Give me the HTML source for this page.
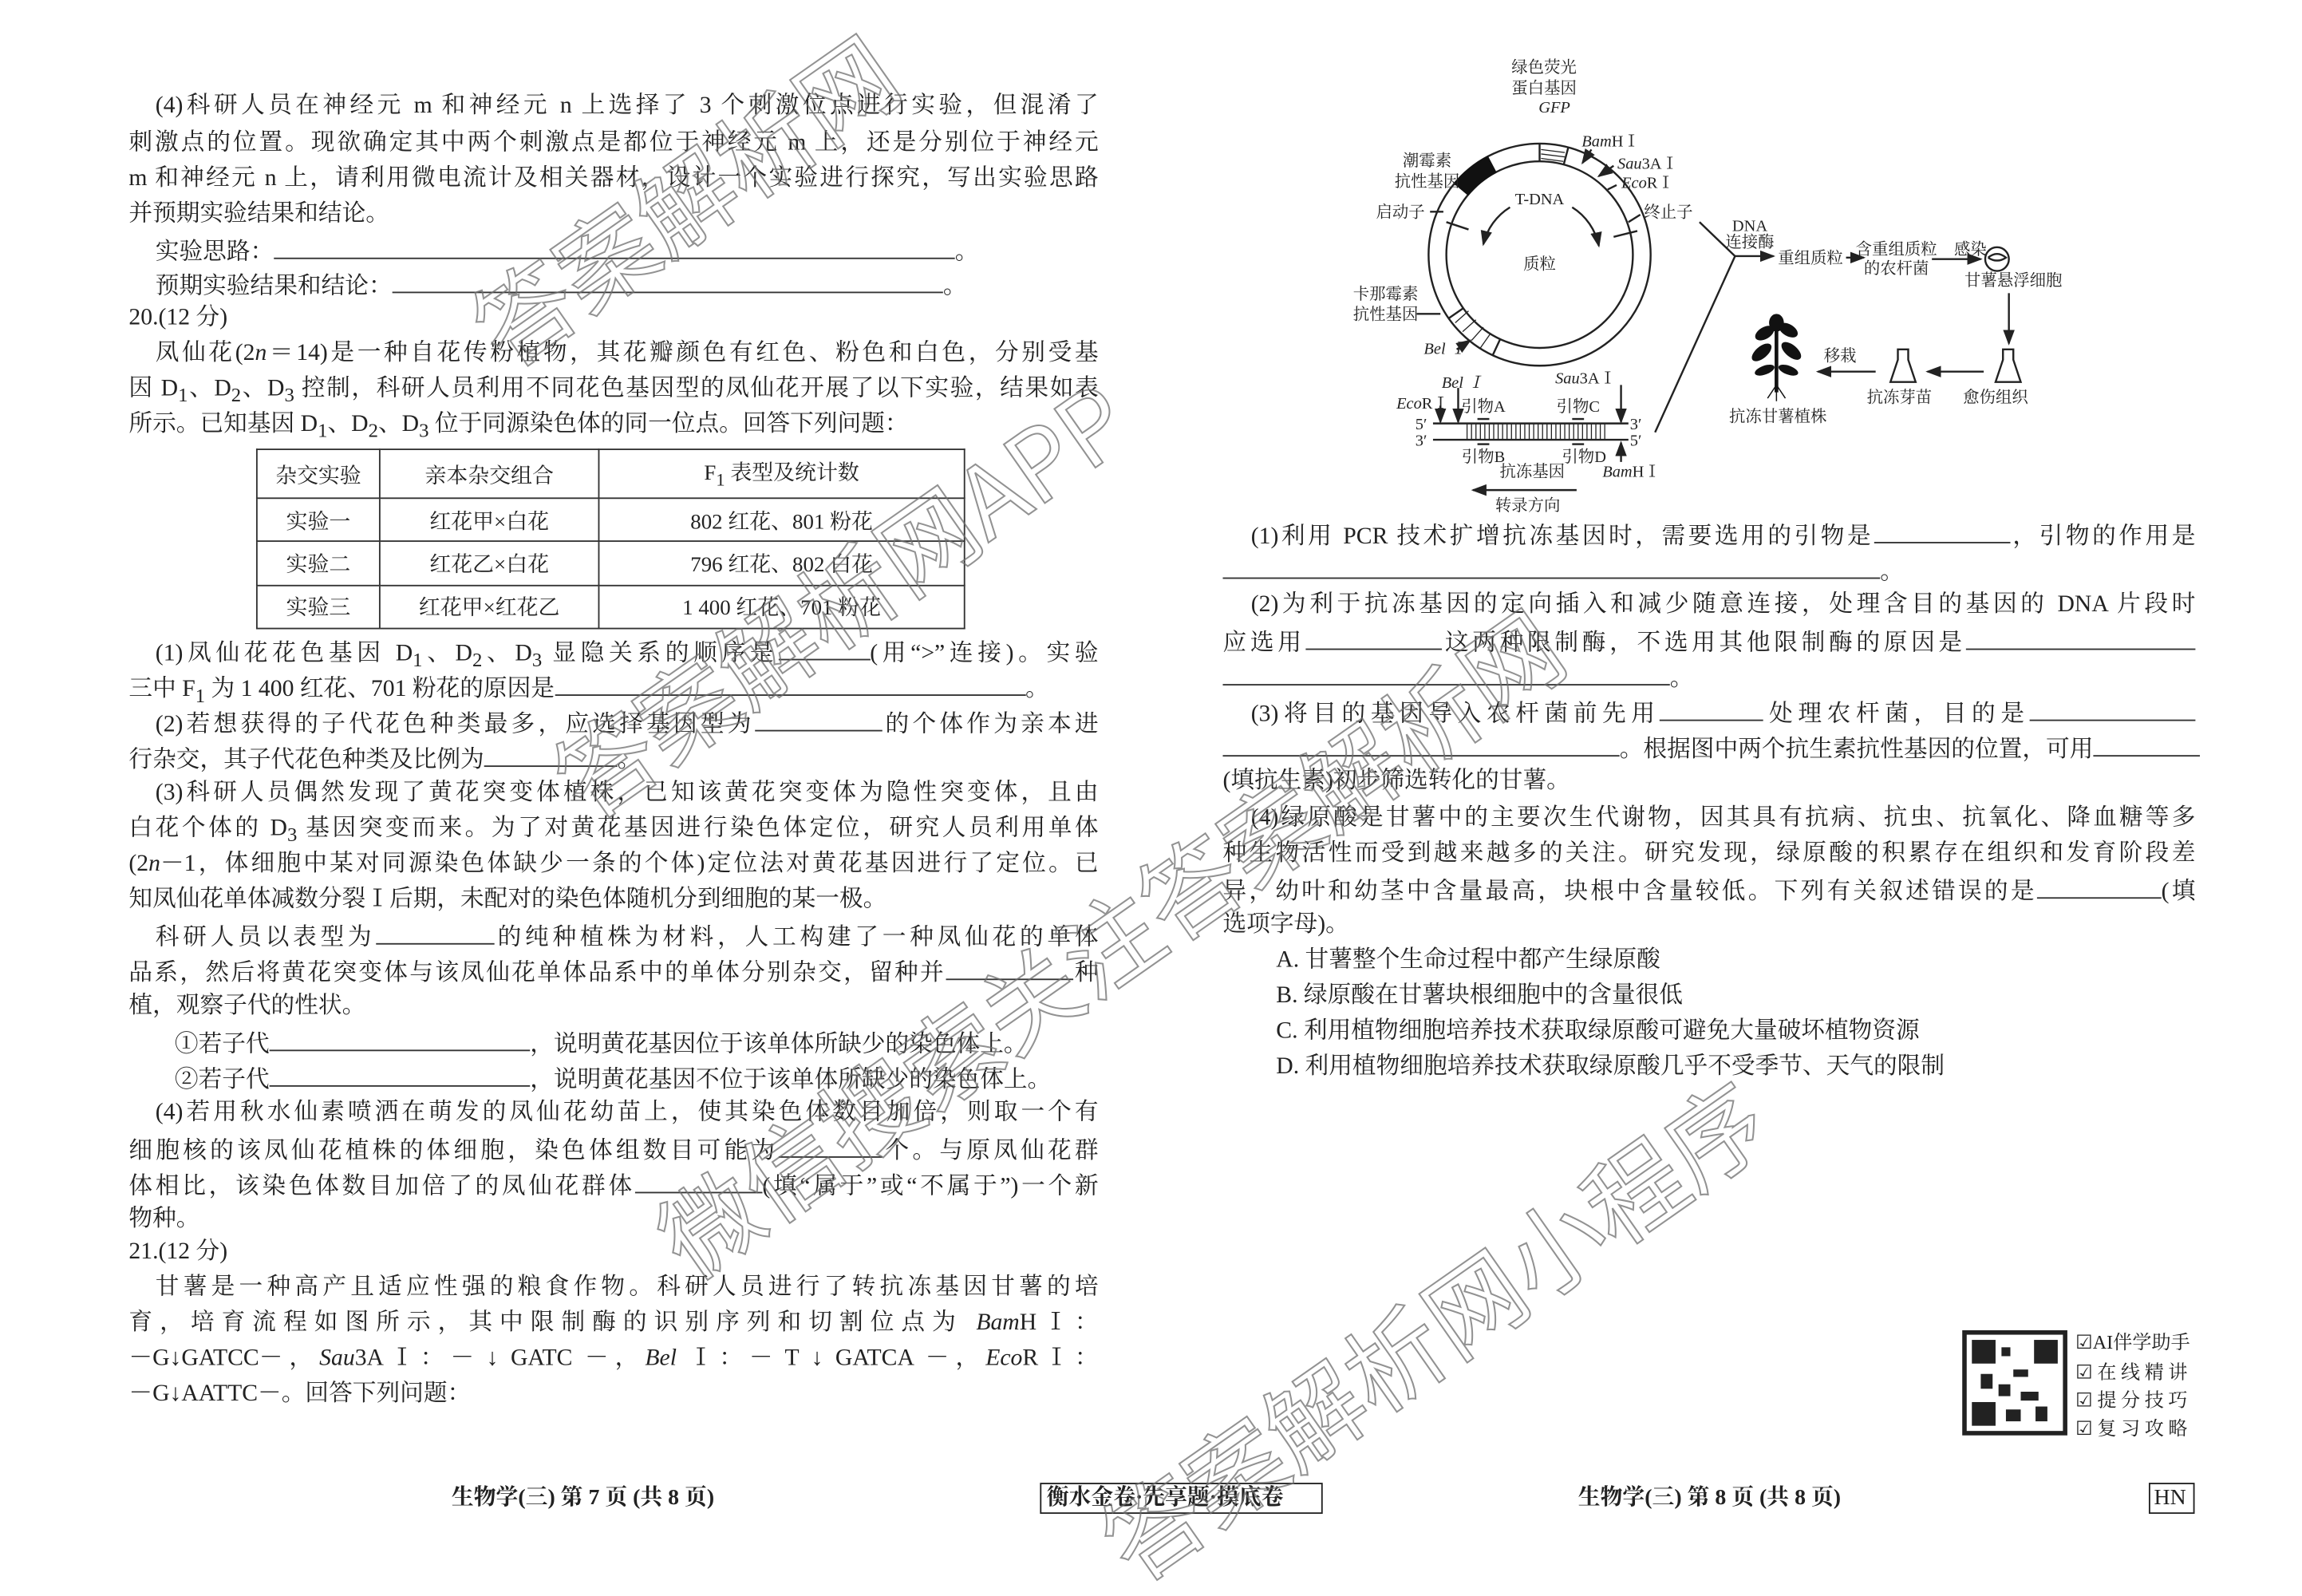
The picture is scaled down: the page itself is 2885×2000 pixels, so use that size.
<!DOCTYPE html>
<html><head><meta charset="utf-8"><style>
html,body{margin:0;padding:0;background:#fff;}
#wrap{width:1555px;height:1078px;position:relative;transform:scale(1.85531);transform-origin:0 0;overflow:hidden;background:#fff;
font-family:"Liberation Serif","Noto Serif CJK SC","Noto Sans CJK SC",serif;color:#222;font-size:16px;}
.l{position:absolute;height:22px;line-height:22px;white-space:nowrap;}
.j{text-align:justify;text-align-last:justify;}
.u{display:inline-block;border-bottom:1px solid #333;height:16px;vertical-align:baseline;}
table{position:absolute;left:173px;top:303px;width:479px;height:122px;border-collapse:collapse;font-size:14.5px;}
td{border:1px solid #333;text-align:center;padding:0;}
.wm{position:absolute;font-size:66px;line-height:66px;height:66px;color:rgba(255,255,255,0);-webkit-text-stroke:1.1px rgba(110,110,110,0.75);font-family:"Noto Sans CJK SC",sans-serif;transform-origin:0 100%;transform:rotate(-35deg);white-space:nowrap;}
.s{font-family:"Liberation Serif","Noto Serif CJK SC",serif;font-size:11px;fill:#222;}
</style></head><body><div id="wrap">

<div class="l j" style="left:105px;width:637px;top:61px">(4)科研人员在神经元 m 和神经元 n 上选择了 3 个刺激位点进行实验，但混淆了</div>
<div class="l j" style="left:87px;width:655px;top:86px">刺激点的位置。现欲确定其中两个刺激点是都位于神经元 m 上，还是分别位于神经元</div>
<div class="l j" style="left:87px;width:655px;top:110px">m 和神经元 n 上，请利用微电流计及相关器材，设计一个实验进行探究，写出实验思路</div>
<div class="l" style="left:87px;top:134px">并预期实验结果和结论。</div>
<div class="l" style="left:105px;top:158px">实验思路：<span class="u" style="width:460px"></span>。</div>
<div class="l" style="left:105px;top:181px">预期实验结果和结论：<span class="u" style="width:372px"></span>。</div>
<div class="l" style="left:87px;top:204px">20.(12 分)</div>
<div class="l j" style="left:105px;width:637px;top:228px">凤仙花(2<i>n</i>＝14)是一种自花传粉植物，其花瓣颜色有红色、粉色和白色，分别受基</div>
<div class="l j" style="left:87px;width:655px;top:252px">因 D<sub>1</sub>、D<sub>2</sub>、D<sub>3</sub> 控制，科研人员利用不同花色基因型的凤仙花开展了以下实验，结果如表</div>
<div class="l" style="left:87px;top:276px">所示。已知基因 D<sub>1</sub>、D<sub>2</sub>、D<sub>3</sub> 位于同源染色体的同一位点。回答下列问题：</div>
<table>
<tr><td style="width:82px">杂交实验</td><td style="width:147px">亲本杂交组合</td><td>F<sub>1</sub> 表型及统计数</td></tr>
<tr><td>实验一</td><td>红花甲×白花</td><td>802 红花、801 粉花</td></tr>
<tr><td>实验二</td><td>红花乙×白花</td><td>796 红花、802 白花</td></tr>
<tr><td>实验三</td><td>红花甲×红花乙</td><td>1 400 红花、701 粉花</td></tr>
</table>
<div class="l j" style="left:105px;width:637px;top:429px">(1)凤仙花花色基因 D<sub>1</sub>、D<sub>2</sub>、D<sub>3</sub> 显隐关系的顺序是<span class="u" style="width:62px"></span>(用“&gt;”连接)。实验</div>
<div class="l" style="left:87px;top:453px">三中 F<sub>1</sub> 为 1 400 红花、701 粉花的原因是<span class="u" style="width:318px"></span>。</div>
<div class="l j" style="left:105px;width:637px;top:477px">(2)若想获得的子代花色种类最多，应选择基因型为<span class="u" style="width:86px"></span>的个体作为亲本进</div>
<div class="l" style="left:87px;top:501px">行杂交，其子代花色种类及比例为<span class="u" style="width:90px"></span>。</div>
<div class="l j" style="left:105px;width:637px;top:525px">(3)科研人员偶然发现了黄花突变体植株，已知该黄花突变体为隐性突变体，且由</div>
<div class="l j" style="left:87px;width:655px;top:549px">白花个体的 D<sub>3</sub> 基因突变而来。为了对黄花基因进行染色体定位，研究人员利用单体</div>
<div class="l j" style="left:87px;width:655px;top:573px">(2<i>n</i>－1，体细胞中某对同源染色体缺少一条的个体)定位法对黄花基因进行了定位。已</div>
<div class="l" style="left:87px;top:597px">知凤仙花单体减数分裂Ⅰ后期，未配对的染色体随机分到细胞的某一极。</div>
<div class="l j" style="left:105px;width:637px;top:621px">科研人员以表型为<span class="u" style="width:80px"></span>的纯种植株为材料，人工构建了一种凤仙花的单体</div>
<div class="l j" style="left:87px;width:655px;top:645px">品系，然后将黄花突变体与该凤仙花单体品系中的单体分别杂交，留种并<span class="u" style="width:86px"></span>种</div>
<div class="l" style="left:87px;top:669px">植，观察子代的性状。</div>
<div class="l" style="left:118px;top:693px">①若子代<span class="u" style="width:176px"></span>，说明黄花基因位于该单体所缺少的染色体上。</div>
<div class="l" style="left:118px;top:717px">②若子代<span class="u" style="width:176px"></span>，说明黄花基因不位于该单体所缺少的染色体上。</div>
<div class="l j" style="left:105px;width:637px;top:741px">(4)若用秋水仙素喷洒在萌发的凤仙花幼苗上，使其染色体数目加倍，则取一个有</div>
<div class="l j" style="left:87px;width:655px;top:765px">细胞核的该凤仙花植株的体细胞，染色体组数目可能为<span class="u" style="width:70px"></span>个。与原凤仙花群</div>
<div class="l j" style="left:87px;width:655px;top:789px">体相比，该染色体数目加倍了的凤仙花群体<span class="u" style="width:86px"></span>(填“属于”或“不属于”)一个新</div>
<div class="l" style="left:87px;top:813px">物种。</div>
<div class="l" style="left:87px;top:835px">21.(12 分)</div>
<div class="l j" style="left:105px;width:637px;top:859px">甘薯是一种高产且适应性强的粮食作物。科研人员进行了转抗冻基因甘薯的培</div>
<div class="l j" style="left:87px;width:655px;top:883px">育，培育流程如图所示，其中限制酶的识别序列和切割位点为 <i>Bam</i>HⅠ：</div>
<div class="l j" style="left:87px;width:655px;top:907px">－G↓GATCC－，<i>Sau</i>3AⅠ：－ ↓ GATC －，<i>Bel</i> Ⅰ：－ T ↓ GATCA －，<i>Eco</i>RⅠ：</div>
<div class="l" style="left:87px;top:931px">－G↓AATTC－。回答下列问题：</div>

<div class="l j" style="left:845px;width:638px;top:350px">(1)利用 PCR 技术扩增抗冻基因时，需要选用的引物是<span class="u" style="width:92px"></span>，引物的作用是</div>
<div class="l" style="left:826px;top:374px"><span class="u" style="width:444px"></span>。</div>
<div class="l j" style="left:845px;width:638px;top:398px">(2)为利于抗冻基因的定向插入和减少随意连接，处理含目的基因的 DNA 片段时</div>
<div class="l j" style="left:826px;width:657px;top:422px">应选用<span class="u" style="width:92px"></span>这两种限制酶，不选用其他限制酶的原因是<span class="u" style="width:155px"></span></div>
<div class="l" style="left:826px;top:446px"><span class="u" style="width:302px"></span>。</div>
<div class="l j" style="left:845px;width:638px;top:470px">(3)将目的基因导入农杆菌前先用<span class="u" style="width:70px"></span>处理农杆菌，目的是<span class="u" style="width:112px"></span></div>
<div class="l j" style="left:826px;width:657px;top:494px"><span class="u" style="width:268px"></span>。根据图中两个抗生素抗性基因的位置，可用<span class="u" style="width:72px"></span></div>
<div class="l" style="left:826px;top:517px">(填抗生素)初步筛选转化的甘薯。</div>
<div class="l j" style="left:845px;width:638px;top:542px">(4)绿原酸是甘薯中的主要次生代谢物，因其具有抗病、抗虫、抗氧化、降血糖等多</div>
<div class="l j" style="left:826px;width:657px;top:566px">种生物活性而受到越来越多的关注。研究发现，绿原酸的积累存在组织和发育阶段差</div>
<div class="l j" style="left:826px;width:657px;top:590px">异，幼叶和幼茎中含量最高，块根中含量较低。下列有关叙述错误的是<span class="u" style="width:84px"></span>(填</div>
<div class="l" style="left:826px;top:614px">选项字母)。</div>
<div class="l" style="left:862px;top:638px">A. 甘薯整个生命过程中都产生绿原酸</div>
<div class="l" style="left:862px;top:662px">B. 绿原酸在甘薯块根细胞中的含量很低</div>
<div class="l" style="left:862px;top:686px">C. 利用植物细胞培养技术获取绿原酸可避免大量破坏植物资源</div>
<div class="l" style="left:862px;top:710px">D. 利用植物细胞培养技术获取绿原酸几乎不受季节、天气的限制</div>

<svg style="position:absolute;left:0;top:0" width="1555" height="1078">
<defs><marker id="a" markerWidth="8" markerHeight="6" refX="7" refY="3" orient="auto"><path d="M0,0 L8,3 L0,6 Z" fill="#222"/></marker></defs>
<g fill="none" stroke="#222" stroke-width="1.3">
<circle cx="1040" cy="172" r="75"/>
<circle cx="1040" cy="172" r="63"/>
<path d="M1040,97 L1040,109 M1059.4,99.5 L1056.3,111.1"/>
<path d="M978.6,215 L988.4,208.2 M1008.3,240 L1013.4,229"/>
<line x1="977" y1="150" x2="992" y2="155"/>
<line x1="1090" y1="160" x2="1106" y2="156"/>
<path d="M1020,140 A40,40 0 0 0 1002,165" marker-end="url(#a)"/>
<path d="M1062,140 A40,40 0 0 1 1080,166" marker-end="url(#a)"/>
<line x1="966" y1="143" x2="975" y2="143"/>
<line x1="1100" y1="150" x2="1108" y2="145"/>
<line x1="957" y1="212" x2="973" y2="212"/>
<line x1="1075" y1="101" x2="1069" y2="110" marker-end="url(#a)"/>
<line x1="1090" y1="112" x2="1080" y2="119" marker-end="url(#a)"/>
<line x1="1092" y1="125" x2="1086" y2="128"/>
<line x1="984" y1="236" x2="993" y2="230" marker-end="url(#a)"/>
<line x1="1148" y1="150" x2="1172" y2="173"/>
<line x1="1172" y1="173" x2="1118" y2="292"/>
<line x1="1172" y1="173" x2="1198" y2="173" marker-end="url(#a)"/>
<line x1="1247" y1="174" x2="1259" y2="174" marker-end="url(#a)"/>
<line x1="1305" y1="175" x2="1338" y2="175" marker-end="url(#a)"/>
<circle cx="1349" cy="175" r="8"/>
<path d="M1343,174 q6,-5 12,0 q-6,4 -12,0"/>
<line x1="1357" y1="198" x2="1357" y2="232" marker-end="url(#a)"/>
<path d="M1353,236 h7 v7 l5,15 h-17 l5,-15 Z"/>
<line x1="1340" y1="251" x2="1302" y2="251" marker-end="url(#a)"/>
<path d="M1282,236 h7 v7 l5,15 h-17 l5,-15 Z"/>
<line x1="1267" y1="251" x2="1228" y2="251" marker-end="url(#a)"/>
<line x1="968" y1="286" x2="1100" y2="286"/>
<line x1="968" y1="297" x2="1100" y2="297"/>
<line x1="973" y1="274" x2="973" y2="285" marker-end="url(#a)"/>
<line x1="985" y1="262" x2="985" y2="285" marker-end="url(#a)"/>
<line x1="1095" y1="260" x2="1095" y2="285" marker-end="url(#a)"/>
<line x1="1095" y1="312" x2="1095" y2="299" marker-end="url(#a)"/>
<line x1="1065" y1="331" x2="995" y2="331" marker-end="url(#a)"/>
<line x1="998" y1="283" x2="1006" y2="283"/><line x1="1062" y1="283" x2="1070" y2="283"/>
<line x1="998" y1="300" x2="1006" y2="300"/><line x1="1062" y1="300" x2="1070" y2="300"/>
</g>
<path d="M982.5,123.8 A75,75 0 0 1 1004.8,105.8 L1010.4,116.4 A63,63 0 0 0 991.7,131.5 Z" fill="#111" stroke="#111"/>
<g stroke="#222" stroke-width="0.7">
<line x1="1041" y1="101" x2="1057" y2="103"/><line x1="1041" y1="104" x2="1057" y2="106"/><line x1="1041" y1="107" x2="1056" y2="109"/>
<line x1="983" y1="218" x2="992" y2="210"/><line x1="988" y1="224" x2="997" y2="216"/><line x1="994" y1="230" x2="1002" y2="221"/><line x1="1000" y1="235" x2="1007" y2="225"/>
<path d="M991,286 v11 M994,286 v11 M997,286 v11 M1000,286 v11 M1003,286 v11 M1006,286 v11 M1009,286 v11 M1012,286 v11 M1015,286 v11 M1018,286 v11 M1021,286 v11 M1024,286 v11 M1027,286 v11 M1030,286 v11 M1033,286 v11 M1036,286 v11 M1039,286 v11 M1042,286 v11 M1045,286 v11 M1048,286 v11 M1051,286 v11 M1054,286 v11 M1057,286 v11 M1060,286 v11 M1063,286 v11 M1066,286 v11 M1069,286 v11 M1072,286 v11 M1075,286 v11 M1078,286 v11 M1081,286 v11 M1084,286 v11"/>
</g>
<g fill="#111">
<path d="M1200,265 V222" stroke="#111" stroke-width="2.5"/>
<ellipse cx="1192" cy="225" rx="7" ry="4" transform="rotate(-30 1192 225)"/>
<ellipse cx="1208" cy="223" rx="7" ry="4" transform="rotate(30 1208 223)"/>
<ellipse cx="1190" cy="238" rx="8" ry="4" transform="rotate(-40 1190 238)"/>
<ellipse cx="1210" cy="237" rx="8" ry="4" transform="rotate(40 1210 237)"/>
<ellipse cx="1192" cy="250" rx="7" ry="3" transform="rotate(-20 1192 250)"/>
<ellipse cx="1208" cy="250" rx="7" ry="3" transform="rotate(20 1208 250)"/>
<ellipse cx="1200" cy="218" rx="5" ry="6"/>
<path d="M1200,260 l-6,9 M1200,260 l6,9 M1200,260 v11" stroke="#111" stroke-width="0.8"/>
</g>
<g text-anchor="middle">
<text class="s" x="1040" y="138">T-DNA</text>
<text class="s" x="1040" y="182">质粒</text>
<text class="s" x="1043" y="49">绿色荧光</text><text class="s" x="1043" y="63">蛋白基因</text><text class="s" x="1050" y="76" font-style="italic">GFP</text>
<text class="s" x="1088" y="99"><tspan font-style="italic">Bam</tspan>HⅠ</text>
<text class="s" x="1113" y="114"><tspan font-style="italic">Sau</tspan>3AⅠ</text>
<text class="s" x="1113" y="127"><tspan font-style="italic">Eco</tspan>RⅠ</text>
<text class="s" x="964" y="112">潮霉素</text><text class="s" x="964" y="126">抗性基因</text>
<text class="s" x="946" y="147">启动子</text>
<text class="s" x="1127" y="147">终止子</text>
<text class="s" x="936" y="202">卡那霉素</text><text class="s" x="936" y="216">抗性基因</text>
<text class="s" x="976" y="239" font-style="italic">Bel Ⅰ</text>
<text class="s" x="1182" y="156">DNA</text><text class="s" x="1182" y="167">连接酶</text>
<text class="s" x="1223" y="178">重组质粒</text>
<text class="s" x="1281" y="172">含重组质粒</text><text class="s" x="1281" y="185">的农杆菌</text>
<text class="s" x="1331" y="172">感染</text>
<text class="s" x="1360" y="193">甘薯悬浮细胞</text>
<text class="s" x="1348" y="272">愈伤组织</text>
<text class="s" x="1283" y="272">抗冻芽苗</text>
<text class="s" x="1243" y="244">移栽</text>
<text class="s" x="1201" y="285">抗冻甘薯植株</text>
<text class="s" x="988" y="262" font-style="italic">Bel Ⅰ</text>
<text class="s" x="1071" y="259"><tspan font-style="italic">Sau</tspan>3AⅠ</text>
<text class="s" x="961" y="276"><tspan font-style="italic">Eco</tspan>RⅠ</text>
<text class="s" x="1002" y="278">引物A</text><text class="s" x="1066" y="278">引物C</text>
<text class="s" x="960" y="290">5′</text><text class="s" x="960" y="301">3′</text>
<text class="s" x="1105" y="290">3′</text><text class="s" x="1105" y="301">5′</text>
<text class="s" x="1002" y="312">引物B</text><text class="s" x="1070" y="312">引物D</text>
<text class="s" x="1035" y="322">抗冻基因</text>
<text class="s" x="1102" y="322"><tspan font-style="italic">Bam</tspan>HⅠ</text>
<text class="s" x="1032" y="345">转录方向</text>
</g>
<rect x="1327" y="900" width="68" height="68" fill="none" stroke="#222" stroke-width="3"/>
<g fill="#222"><rect x="1332" y="905" width="16" height="16"/><rect x="1374" y="905" width="16" height="16"/><rect x="1332" y="947" width="16" height="16"/>
<rect x="1352" y="910" width="6" height="6"/><rect x="1360" y="925" width="10" height="5"/><rect x="1350" y="935" width="8" height="8"/><rect x="1365" y="940" width="12" height="6"/><rect x="1375" y="950" width="8" height="10"/><rect x="1355" y="952" width="10" height="8"/><rect x="1338" y="928" width="8" height="10"/></g>
<rect x="703" y="1002" width="190" height="20" fill="none" stroke="#222"/>
<rect x="1452" y="1002" width="30" height="20" fill="none" stroke="#222"/>
</svg>
<div class="l" style="left:1402px;top:896px;font-size:13px">☑AI伴学助手</div>
<div class="l" style="left:1402px;top:916px;font-size:13px;letter-spacing:3px">☑在线精讲</div>
<div class="l" style="left:1402px;top:935px;font-size:13px;letter-spacing:3px">☑提分技巧</div>
<div class="l" style="left:1402px;top:954px;font-size:13px;letter-spacing:3px">☑复习攻略</div>
<div class="l" style="left:305px;top:1001px;font-weight:bold;font-size:15px">生物学(三) 第 7 页 (共 8 页)</div>
<div class="l" style="left:707px;top:1001px;font-weight:bold;font-size:15px">衡水金卷·先享题·摸底卷</div>
<div class="l" style="left:1066px;top:1001px;font-weight:bold;font-size:15px">生物学(三) 第 8 页 (共 8 页)</div>
<div class="l" style="left:1455px;top:1001px;font-size:15px">HN</div>

<div class="wm" style="left:345px;top:189px">答案解析网</div>
<div class="wm" style="left:400px;top:494px">答案解析网APP</div>
<div class="wm" style="left:470px;top:804px">微信搜索关注答案解析网</div>
<div class="wm" style="left:770px;top:1009px">答案解析网小程序</div>
</div></body></html>
